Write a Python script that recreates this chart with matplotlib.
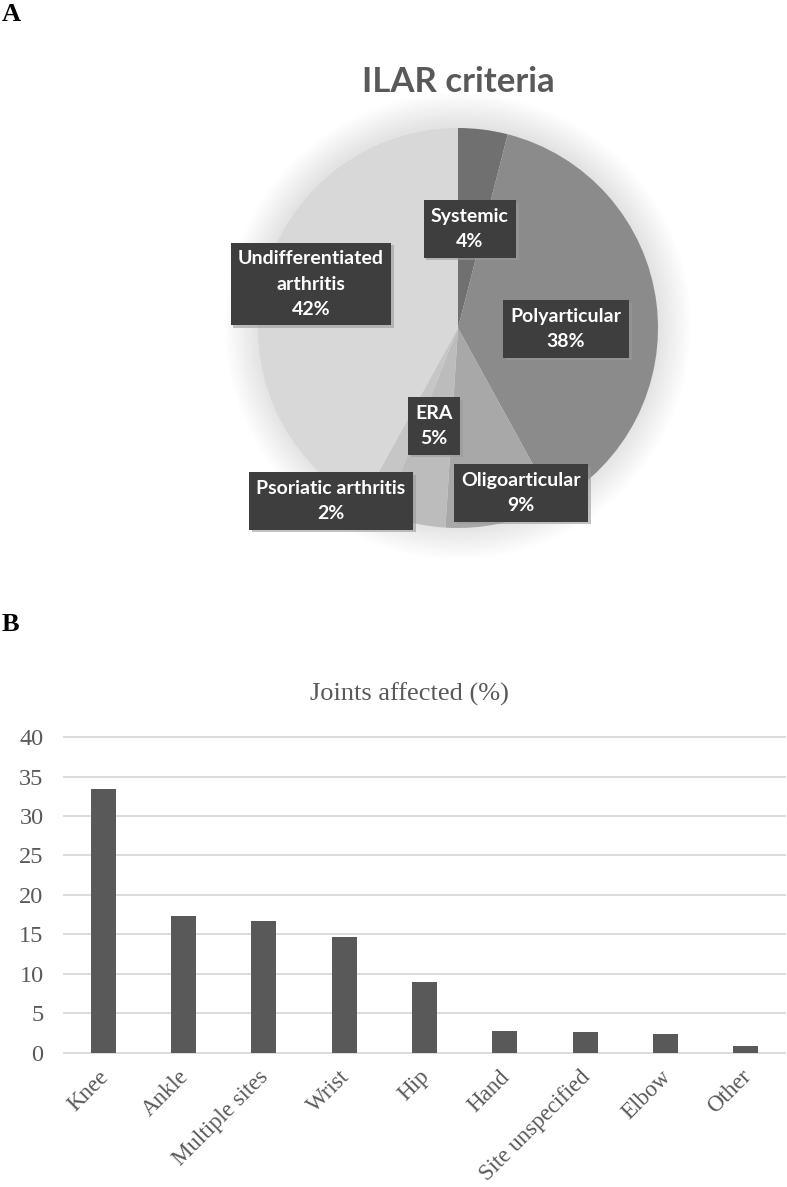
import matplotlib
matplotlib.use('Agg')
import matplotlib.pyplot as plt
import matplotlib.patheffects as pe
from matplotlib.patches import Circle
from matplotlib.transforms import ScaledTranslation

# panel A - ILAR categories (clockwise from 12 o'clock)
ilar_types = ['Systemic', 'Polyarticular', 'Oligoarticular', 'ERA',
              'Psoriatic arthritis', 'Undifferentiated\narthritis']
ilar_pct = [4, 38, 9, 5, 2, 42]
ilar_colors = ['#707070', '#8b8b8b', '#a8a8a8', '#bcbcbc', '#c6c6c6', '#d8d8d8']
# where the data labels were dragged to (pie radius units)
label_xy = [(0.06, 0.495), (0.54, -0.005), (0.315, -0.825),
            (-0.12, -0.49), (-0.635, -0.865), (-0.735, 0.22)]

# panel B - joints affected
joints = ['Knee', 'Ankle', 'Multiple sites', 'Wrist', 'Hip', 'Hand',
          'Site unspecified', 'Elbow', 'Other']
joint_pct = [33.4, 17.3, 16.7, 14.7, 9.0, 2.8, 2.6, 2.4, 0.9]

W, H = 787, 1187
fig = plt.figure(figsize=(W / 100, H / 100), dpi=100)
fig.patch.set_facecolor('white')

serif = 'Liberation Serif'
grey = '#595959'

# ---- pie ----
cx, cy, R = 458, 328, 200
span = 1.3
ax1 = fig.add_axes([(cx - span * R) / W, (H - cy - span * R) / H,
                    2 * span * R / W, 2 * span * R / H])
# soft glow behind the pie
for k in range(28):
    ax1.add_patch(Circle((0.0, 0.01), 1 + 0.006 * (k + 1), color='k',
                         alpha=0.0035, lw=0, zorder=0))
ax1.pie(ilar_pct, colors=ilar_colors, startangle=90, counterclock=False,
        radius=1, wedgeprops=dict(linewidth=0, zorder=1))
ax1.set_xlim(-span, span)
ax1.set_ylim(-span, span)
ax1.set_aspect('equal')
ax1.axis('off')

for name, p, (x, y) in zip(ilar_types, ilar_pct, label_xy):
    t = ax1.text(x, y, f'{name}\n{p}%', ha='center', va='center',
                 color='white', fontsize=14, fontweight='bold',
                 family='Lato', linespacing=1.6, zorder=5,
                 bbox=dict(boxstyle='square,pad=0.38', fc='#3e3e3e',
                           ec='none', lw=0))
    t.get_bbox_patch().set_path_effects(
        [pe.SimplePatchShadow(offset=(2, -2), shadow_rgbFace='#9a9a9a',
                              alpha=0.6), pe.Normal()])

fig.text(cx / W, 1 - 66 / H, 'ILAR criteria', ha='center', va='top',
         fontsize=25, fontweight='bold', family='Lato', color=grey)

# ---- bars ----
zero_px, ppu = 1052.7, 7.89
lo, hi = -0.3, 40.3
ax2 = fig.add_axes([63 / W, (H - (zero_px - lo * ppu)) / H,
                    723 / W, (hi - lo) * ppu / H])
x = range(len(joints))
ax2.bar(x, joint_pct, width=0.31, color=grey, zorder=3)
ax2.set_xlim(-0.5, len(joints) - 0.5)
ax2.set_ylim(lo, hi)
ax2.set_yticks(range(0, 41, 5))
ax2.set_xticks(list(x))
ax2.set_xticklabels(joints, rotation=45, ha='right', rotation_mode='anchor')
ax2.grid(axis='y', color='#d9d9d9', lw=1.3, zorder=0)
ax2.set_axisbelow(True)
for s in ax2.spines.values():
    s.set_visible(False)
ax2.tick_params(axis='both', length=0, colors=grey)
ax2.tick_params(axis='y', pad=14, labelsize=17.5)
ax2.tick_params(axis='x', pad=8, labelsize=16.5)
shift = ScaledTranslation(-4 / 72, 0, fig.dpi_scale_trans)
for lab in ax2.get_xticklabels():
    lab.set_family(serif)
    lab.set_transform(lab.get_transform() + shift)
for lab in ax2.get_yticklabels():
    lab.set_family(serif)

fig.text(409 / W, 1 - 683 / H, 'Joints affected (%)', ha='center', va='top',
         family=serif, fontsize=19, color=grey)

fig.text(2 / W, 1 - 3 / H, 'A', family=serif, fontweight='bold',
         fontsize=19, va='top', ha='left')
fig.text(2 / W, 1 - 613 / H, 'B', family=serif, fontweight='bold',
         fontsize=19, va='top', ha='left')

fig.savefig('out.png', dpi=100)
